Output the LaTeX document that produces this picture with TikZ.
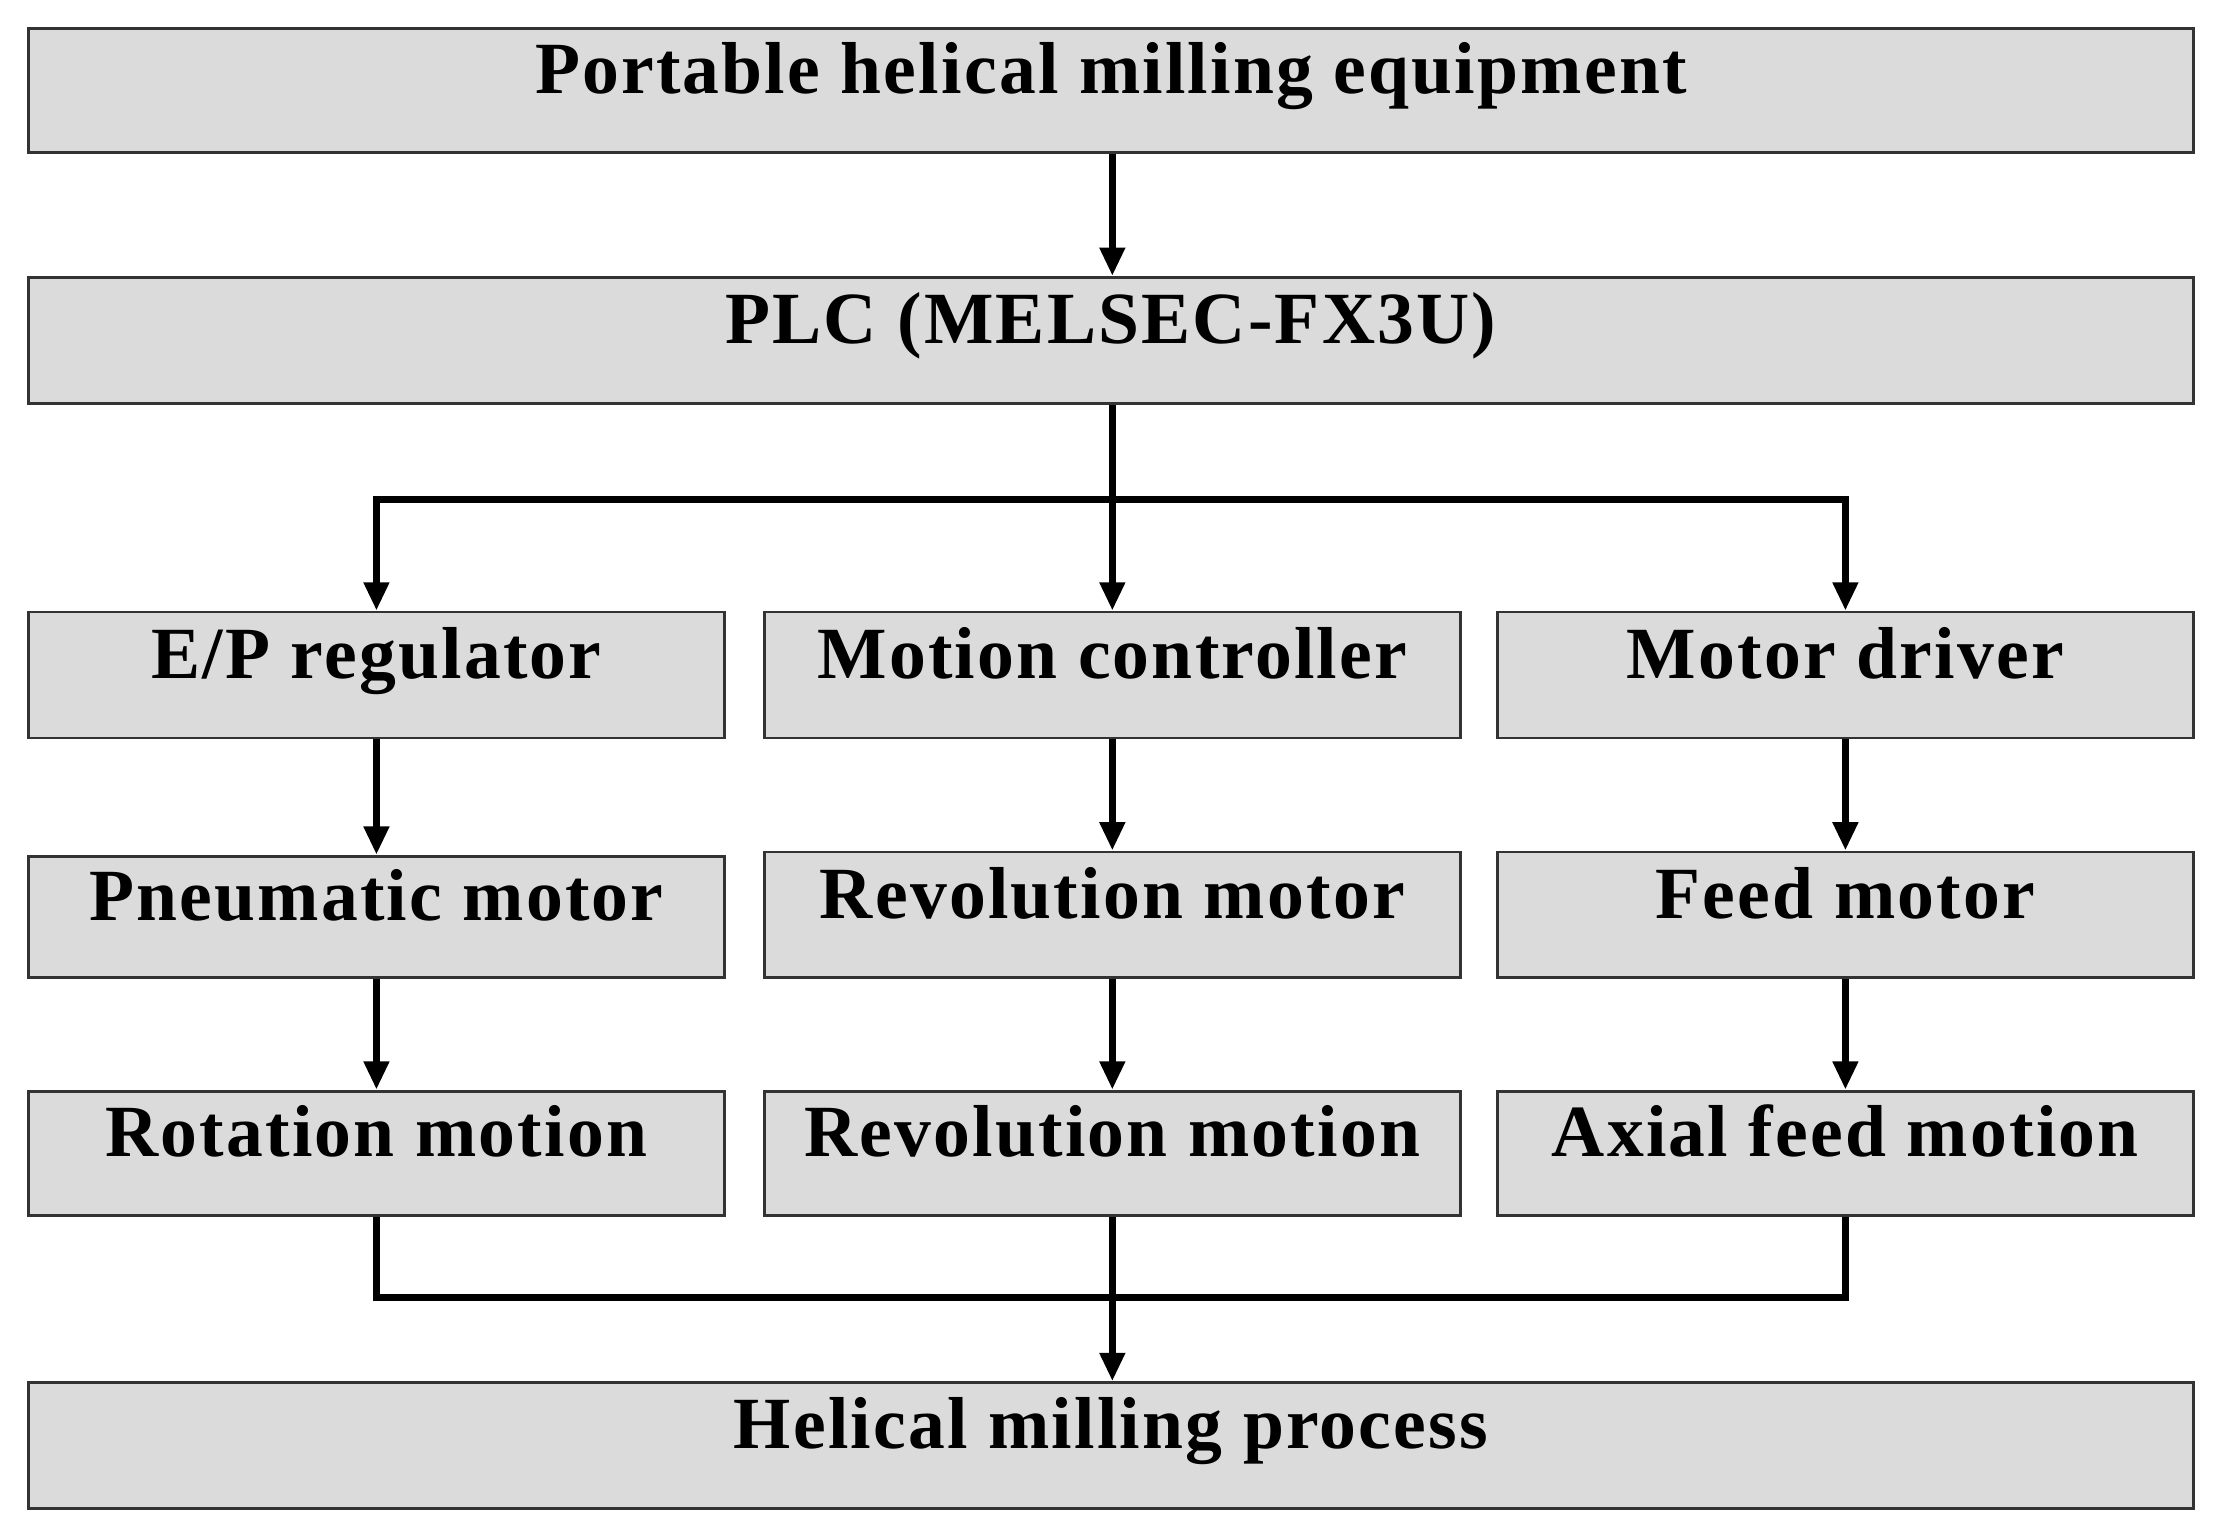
\documentclass[tikz,border=0pt]{standalone}
\usepackage{fontspec}
\setmainfont{Liberation Serif}[LetterSpace=3]
\usetikzlibrary{arrows.meta}
\begin{document}
\begin{tikzpicture}[x=1pt,y=-1pt,
 box/.style={draw=black!80,line width=2pt,fill=gray!28,inner sep=0pt,text height=0.68em,text depth=0.22em,font=\fontsize{52}{58}\selectfont\bfseries},
 arr/.style={line width=5pt,-{Triangle[length=20pt,width=17pt]}},
 ln/.style={line width=5pt}]
\useasboundingbox (0,0) rectangle (1568,1080);
\node[box,minimum width=1530pt,minimum height=88pt] (top) at (785,64) {Portable helical milling equipment};
\node[box,minimum width=1530pt,minimum height=89pt] (plc) at (785,240.5) {PLC (MELSEC-FX3U)};
\tikzset{sb/.style={box,minimum width=492pt,minimum height=89pt}}
\node[sb] (ep) at (266,477) {E/P regulator};
\node[sb] (mc) at (786,477) {Motion controller};
\node[sb] (md) at (1304,477) {Motor driver};
\node[sb,minimum height=86pt] (pm) at (266,648) {Pneumatic motor};
\node[sb] (rm) at (786,646.5) {Revolution motor};
\node[sb] (fm) at (1304,646.5) {Feed motor};
\node[sb,minimum height=88pt] (ro) at (266,815) {Rotation motion};
\node[sb,minimum height=88pt] (rv) at (786,815) {Revolution motion};
\node[sb,minimum height=88pt] (ax) at (1304,815) {Axial feed motion};
\node[box,minimum width=1530pt,minimum height=89pt] (hm) at (785,1021.5) {Helical milling process};
\coordinate (b) at (786,353);
\coordinate (m) at (786,917);
\draw[arr] (top.south -| b) -- (plc.north -| b);
\draw[ln] (plc.south -| b) -- (b);
\draw[arr] (b) -- (mc.north);
\draw[arr] (b) -| (ep.north);
\draw[arr] (b) -| (md.north);
\draw[arr] (ep) -- (pm);
\draw[arr] (mc) -- (rm);
\draw[arr] (md) -- (fm);
\draw[arr] (pm) -- (ro);
\draw[arr] (rm) -- (rv);
\draw[arr] (fm) -- (ax);
\draw[ln] (ro.south) |- (m);
\draw[ln] (ax.south) |- (m);
\draw[arr] (rv.south) -- (hm.north -| rv);
\end{tikzpicture}
\end{document}
